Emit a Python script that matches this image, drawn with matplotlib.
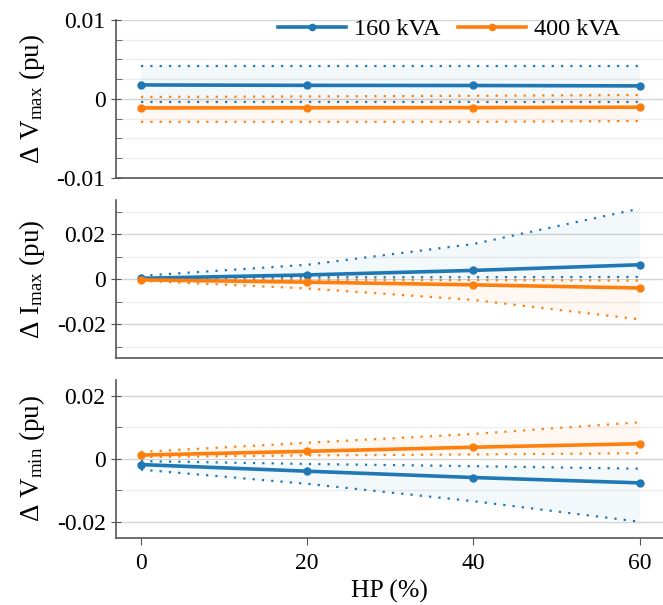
import matplotlib
matplotlib.use("Agg")
import matplotlib.pyplot as plt
from matplotlib.ticker import MultipleLocator

hp = [0, 20, 40, 60]
series_names = ["160 kVA", "400 kVA"]

# dVmax (pu)
vmax_160_mean = [0.00177, 0.00172, 0.00170, 0.00165]
vmax_160_hi = [0.0042, 0.0042, 0.0042, 0.0042]
vmax_160_lo = [-0.0004, -0.0004, -0.0004, -0.0004]
vmax_400_mean = [-0.00114, -0.00112, -0.00110, -0.00105]
vmax_400_hi = [0.00025, 0.00032, 0.0004, 0.0005]
vmax_400_lo = [-0.0029, -0.0029, -0.0029, -0.0028]

# dImax (pu)
imax_160_mean = [0.0004, 0.0019, 0.0039, 0.0064]
imax_160_hi = [0.0015, 0.0064, 0.0156, 0.0313]
imax_160_lo = [0.0004, 0.0008, 0.0009, 0.0010]
imax_400_mean = [-0.0003, -0.0013, -0.0025, -0.0039]
imax_400_hi = [0.0, -0.0004, -0.0004, -0.0006]
imax_400_lo = [-0.0007, -0.0041, -0.0092, -0.0178]

# dVmin (pu)
vmin_160_mean = [-0.0018, -0.0039, -0.0059, -0.0076]
vmin_160_hi = [-0.0007, -0.0016, -0.0023, -0.0031]
vmin_160_lo = [-0.0034, -0.0079, -0.0134, -0.0199]
vmin_400_mean = [0.0012, 0.0024, 0.0037, 0.0048]
vmin_400_hi = [0.0022, 0.0051, 0.0079, 0.0116]
vmin_400_lo = [0.0006, 0.0011, 0.0014, 0.0018]

BLUE = "#1f77b4"
ORANGE = "#ff7f0e"
AXC = "#555555"

plt.rcParams["font.family"] = ["Liberation Serif", "DejaVu Serif"]
plt.rcParams["mathtext.fontset"] = "custom"
plt.rcParams["mathtext.rm"] = "Liberation Serif"
plt.rcParams["mathtext.it"] = "Liberation Serif:italic"
plt.rcParams["font.size"] = 17

fig = plt.figure(figsize=(6.63, 6.05), dpi=100)
left, width, height = 0.175, 0.825, 0.261
bottoms = [0.706, 0.408, 0.111]
axes = [fig.add_axes([left, b, width, height]) for b in bottoms]

panels = [
    (axes[0], (vmax_160_mean, vmax_160_hi, vmax_160_lo),
     (vmax_400_mean, vmax_400_hi, vmax_400_lo),
     r"Δ V$_{\rm max}$ (pu)", 0.01, 0.0025, 0.01, ["-0.01", "0", "0.01"]),
    (axes[1], (imax_160_mean, imax_160_hi, imax_160_lo),
     (imax_400_mean, imax_400_hi, imax_400_lo),
     r"Δ I$_{\rm max}$ (pu)", 0.035, 0.01, 0.02, ["-0.02", "0", "0.02"]),
    (axes[2], (vmin_160_mean, vmin_160_hi, vmin_160_lo),
     (vmin_400_mean, vmin_400_hi, vmin_400_lo),
     r"Δ V$_{\rm min}$ (pu)", 0.025, 0.01, 0.02, ["-0.02", "0", "0.02"]),
]

for ax, s160, s400, ylabel, lim, minor, major, labels in panels:
    for (mean, hi, lo), color, name in zip([s160, s400], [BLUE, ORANGE], series_names):
        ax.fill_between(hp, lo, hi, color=color, alpha=0.05, lw=0, zorder=1)
        ax.plot(hp, hi, color=color, lw=1.6, dashes=(1.0, 3.2), zorder=2)
        ax.plot(hp, lo, color=color, lw=1.6, dashes=(1.0, 3.2), zorder=2)
        ax.plot(hp, mean, "-o", color=color, lw=2.6, ms=5, label=name, zorder=3)

    ax.set_xlim(-3.0, 62.8)
    ax.set_ylim(-lim, lim)
    ax.set_yticks([-major, 0, major])
    ax.set_yticklabels(labels)
    ax.yaxis.set_minor_locator(MultipleLocator(minor))
    ax.set_ylabel(ylabel, fontsize=19.5, labelpad=7)
    ax.yaxis.grid(True, which="major", color="#d4d4d4", lw=1.0, zorder=0)
    ax.yaxis.grid(True, which="minor", color="#eeeeee", lw=1.0, zorder=0)
    ax.set_axisbelow(True)
    for s in ("top", "right"):
        ax.spines[s].set_visible(False)
    for s in ("left", "bottom"):
        ax.spines[s].set_color(AXC)
        ax.spines[s].set_linewidth(1.2)
    ax.tick_params(axis="y", which="major", direction="inout", length=7,
                   color=AXC, labelsize=17, pad=4)
    ax.tick_params(axis="y", which="minor", direction="in", length=4,
                   color=AXC)

for ax in axes[:2]:
    ax.set_xticks([])

axes[2].set_xticks(hp)
axes[2].tick_params(axis="x", direction="out", length=5, color=AXC,
                    labelsize=17, pad=6)
axes[2].set_xlabel("HP (%)", fontsize=18.5, labelpad=4)

fig.align_ylabels(axes)

axes[0].legend(loc="center right", ncol=2, frameon=False, fontsize=17.5,
               handlelength=2.8, columnspacing=0.7, handletextpad=0.35,
               markerscale=0.9, bbox_to_anchor=(0.94, 0.94), borderaxespad=0.0)

fig.savefig("out.png", dpi=100, facecolor="white")
